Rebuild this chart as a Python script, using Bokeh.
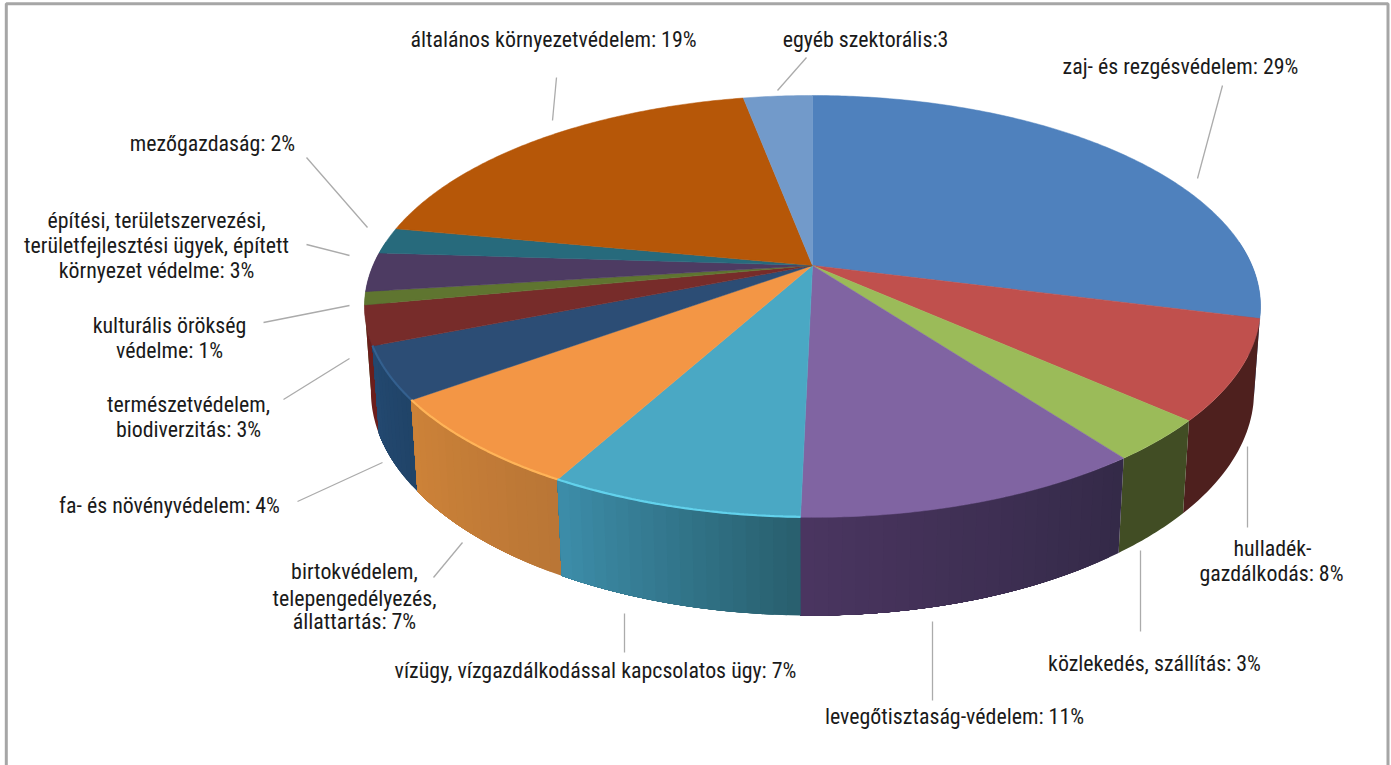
import math
from bokeh.plotting import figure
from bokeh.models import Range1d
from bokeh.core.properties import value
from bokeh.embed import file_html
from bokeh.resources import INLINE

# slice shares, clockwise from the top
categories = ["zaj- és rezgésvédelem", "hulladékgazdálkodás", "közlekedés, szállítás",
              "levegőtisztaság-védelem", "vízügy", "birtokvédelem", "fa- és növényvédelem",
              "természetvédelem", "kulturális örökség", "építési", "mezőgazdaság",
              "általános környezetvédelem", "egyéb szektorális"]
shares = [29, 7.6, 3.2, 10.55, 7.65, 7, 4, 3, 1, 3, 2, 19, 3]
top_colors = ["#4F81BD", "#C0504D", "#9BBB59", "#8064A2", "#4AA8C4", "#F39645", "#2C4D75",
              "#772C2A", "#5F7530", "#4D3B62", "#276A7C", "#B65708", "#729ACA"]
wall_left = ["#2F5A90", "#4E201E", "#414D24", "#4A3560", "#3C8CA8", "#CC8238", "#234870",
             "#6B1E1C", "#4A5C24", "#3C2E4E", "#1E5362", "#8F4506", "#5C7EA8"]
wall_right = ["#2F5A90", "#4E201E", "#414D24", "#342A48", "#29606F", "#BA7636", "#204468",
              "#6B1E1C", "#4A5C24", "#3C2E4E", "#1E5362", "#8F4506", "#5C7EA8"]
rim_colors = [None, None, None, None, "#62D2EC", "#FFB458", "#34608F", None,
              None, None, None, None, None]

# label rows: text, centre x, vertical centre y
label_text = ["általános környezetvédelem: 19%", "egyéb szektorális:3", "zaj- és rezgésvédelem: 29%",
              "mezőgazdaság: 2%", "építési, területszervezési,", "területfejlesztési ügyek, épített",
              "környezet védelme: 3%", "kulturális örökség", "védelme: 1%", "természetvédelem,",
              "biodiverzitás: 3%", "fa- és növényvédelem: 4%", "birtokvédelem,", "telepengedélyezés,",
              "állattartás: 7%", "vízügy, vízgazdálkodással kapcsolatos ügy: 7%",
              "levegőtisztaság-védelem: 11%", "közlekedés, szállítás: 3%", "hulladék-", "gazdálkodás: 8%"]
label_x = [553, 865, 1180, 212, 156, 156, 156, 169, 169, 188, 188, 169, 354, 354, 354, 595, 954, 1154, 1272, 1271]
label_y = [38.5, 38.5, 65.5, 142.5, 219.5, 244.5, 269.5, 324.5, 349.5, 403.5, 428.5, 504.5, 570.5, 597.5, 620.5, 669.5, 715.5, 662.5, 547.5, 572.5]

# leader lines
lead_x0 = [1222, 556, 806, 306, 306, 263, 283, 297, 433, 624, 932, 1140, 1247]
lead_y0 = [85, 77, 57, 157, 244, 322, 399, 501, 577, 613, 621, 550, 446]
lead_x1 = [1197, 552, 777, 367, 349, 349, 349, 382, 462, 624, 932, 1140, 1247]
lead_y1 = [178, 120, 90, 227, 255, 305, 358, 462, 542, 652, 700, 631, 527]

# frame: left, top and right sides only
frame_x = [[5.8, 5.8, 1387.5, 1387.5]]
frame_y = [[765, 3.3, 3.3, 765]]

# tilted disc camera
CX, CY, A, B, K = 812.0, 265.0, 439.5, 203.0, 0.194
W_LOW, C_LOW = 1.014, 84.0
FONT = "Roboto Condensed"


def top_pt(t):
    X, Y = math.sin(t), math.cos(t)
    w = 1 + K * Y
    return CX + A * X / w, CY - B * Y / w


def low_pt(t):
    X, Y = math.sin(t), math.cos(t)
    w = W_LOW + K * Y
    return CX + A * X / w, CY + (C_LOW - B * Y) / w


def mix(c0, c1, f):
    a = [int(c0[i:i + 2], 16) for i in (1, 3, 5)]
    b = [int(c1[i:i + 2], 16) for i in (1, 3, 5)]
    return "#%02X%02X%02X" % tuple(round(p + (q - p) * f) for p, q in zip(a, b))


p = figure(width=1391, height=765, output_backend="svg", toolbar_location=None,
           x_range=Range1d(0, 1391), y_range=Range1d(765, 0), min_border=0,
           outline_line_color=None, background_fill_color="white", margin=(0, 0, 0, 0))
p.xaxis.visible = False
p.yaxis.visible = False
p.grid.visible = False

total = sum(shares)
edges = [0.0]
for s in shares:
    edges.append(edges[-1] + s / total * 2 * math.pi)

# walls: painted back to front; shaded walls are cut into overlapping strips
order = sorted(range(len(shares)), key=lambda i: math.cos((edges[i] + edges[i + 1]) / 2), reverse=True)
for i in order:
    a0, a1 = edges[i], edges[i + 1]
    if math.cos(a0) > 0.12 and math.cos(a1) > 0.12:
        continue
    lo, hi = a0, a1
    if math.cos(lo) > 0.12:
        lo = math.acos(0.12)
    if math.cos(hi) > 0.12:
        hi = 2 * math.pi - math.acos(0.12)
    n = 1 if wall_left[i] == wall_right[i] else max(2, int((hi - lo) / 0.025))
    for j in range(n):
        t0 = lo + (hi - lo) * j / n
        t1 = hi
        c = wall_right[i] if n == 1 else mix(wall_right[i], wall_left[i], j / (n - 1))
        m = 24
        ts = [t0 + (t1 - t0) * q / m for q in range(m + 1)]
        xs = [top_pt(t)[0] for t in ts] + [low_pt(t)[0] for t in reversed(ts)]
        ys = [top_pt(t)[1] for t in ts] + [low_pt(t)[1] for t in reversed(ts)]
        p.patch(xs, ys, fill_color=c, line_color=None)

# top faces
for i in range(len(shares)):
    a0, a1 = edges[i], edges[i + 1]
    n = max(4, int((a1 - a0) / 0.01))
    ts = [a0 + (a1 - a0) * j / n for j in range(n + 1)]
    pts = [top_pt(t) for t in ts]
    xs = [CX] + [q[0] for q in pts]
    ys = [CY] + [q[1] for q in pts]
    p.patch(xs, ys, fill_color=top_colors[i], line_color=top_colors[i], line_width=0.5)

# lit rims
for i, c in enumerate(rim_colors):
    if c is None:
        continue
    a0, a1 = edges[i], edges[i + 1]
    ts = [a0 + (a1 - a0) * j / 60 for j in range(61)]
    p.line([top_pt(t)[0] for t in ts], [top_pt(t)[1] - 0.5 for t in ts], line_color=c, line_width=2.2)

p.segment(lead_x0, lead_y0, lead_x1, lead_y1, line_color="#ABABAB", line_width=1.3)

p.text(label_x, label_y, text=label_text, text_font=value(FONT), text_font_size="21.9px",
       text_color="#1A1A1A", text_align="center", text_baseline="alphabetic")

p.multi_line(frame_x, frame_y, line_color="#A6A6A6", line_width=3)

open("out.html", "w").write(file_html(p, INLINE))
